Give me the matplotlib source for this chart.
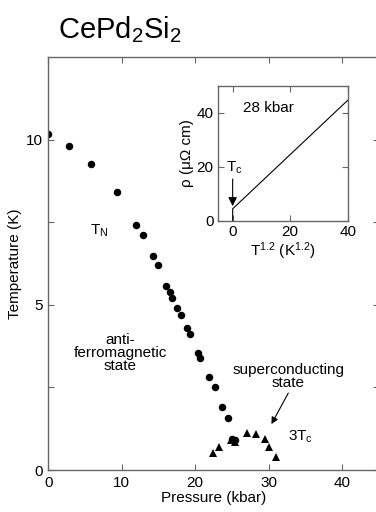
import numpy as np
import matplotlib
matplotlib.use("Agg")
from matplotlib import pyplot as plt

plt.rcParams['font.family'] = ['Liberation Sans', 'DejaVu Sans']
plt.rcParams['mathtext.fontset'] = 'custom'
plt.rcParams['mathtext.rm'] = 'Liberation Sans'
plt.rcParams['mathtext.it'] = 'Liberation Sans'

# T_N (circles) vs pressure
p_neel = [0.0, 2.8, 5.8, 9.3, 12.0, 12.9, 14.2, 15.0, 16.0, 16.6, 16.8, 17.6, 18.1,
          18.9, 19.3, 20.4, 20.7, 21.9, 22.7, 23.7, 24.5, 25.0, 25.4]
t_neel = [10.17, 9.82, 9.27, 8.41, 7.42, 7.10, 6.47, 6.19, 5.57, 5.39, 5.22, 4.89, 4.68,
          4.31, 4.11, 3.53, 3.40, 2.82, 2.50, 1.91, 1.56, 0.93, 0.91]

# 3*Tc (triangles) vs pressure
p_sc = [22.4, 23.3, 24.9, 25.4, 27.1, 28.3, 29.5, 30.1, 31.0]
t_sc3 = [0.52, 0.70, 0.91, 0.85, 1.11, 1.08, 0.93, 0.70, 0.40]

# inset: resistivity at 28 kbar vs T^1.2
t12 = [0, 0, 40]
rho = [0, 4.5, 44.6]

W, H = 376, 512
fig = plt.figure(figsize=(W / 100, H / 100), dpi=100)

spine_c = '0.4'
fs = 11

ax = fig.add_axes([48.3 / W, (H - 470) / H, 330.3 / W, 413 / H])
ax.plot(p_neel, t_neel, 'o', color='black', ms=5.4, mew=0)
ax.plot(p_sc, t_sc3, '^', color='black', ms=5.6, mew=0)
ax.set_xlim(0, 45)
ax.set_ylim(0, 12.5)
ax.set_xticks([0, 10, 20, 30, 40])
ax.set_yticks([0, 2.5, 5, 7.5, 10])
ax.set_yticklabels(['0', '', '5', '', '10'])
ax.tick_params(direction='in', top=True, right=True, length=4, width=0.8,
               color=spine_c, labelsize=fs, pad=4)
for s in ax.spines.values():
    s.set_color(spine_c)
    s.set_linewidth(1)
ax.set_xlabel('Pressure (kbar)', fontsize=fs, labelpad=1)
ax.set_ylabel('Temperature (K)', fontsize=fs, labelpad=3)

ax.text(6.9, 7.25, '$\\mathregular{T_N}$', fontsize=fs, ha='center', va='center')
ax.text(9.8, 3.53, 'anti-\nferromagnetic\nstate', fontsize=fs, ha='center',
        va='center', linespacing=0.92)
ax.text(32.7, 2.84, 'superconducting\nstate', fontsize=fs, ha='center',
        va='center', linespacing=0.92)
ax.annotate('', xy=(30.4, 1.39), xytext=(32.7, 2.33),
            arrowprops=dict(arrowstyle='-|>', color='black', lw=0.8,
                            mutation_scale=10, shrinkA=0, shrinkB=0))
ax.text(34.4, 1.0, '$\\mathregular{3T_c}$', fontsize=fs, ha='center', va='center')

fig.text(58 / W, 1 - 30 / H, '$\\mathregular{CePd_2Si_2}$', fontsize=21,
         ha='left', va='center')

# inset
ins = fig.add_axes([217.7 / W, (H - 221) / H, 130 / W, 135.3 / H])
ins.plot(t12, rho, color='black', lw=0.8)
ins.set_xlim(-5.2, 40)
ins.set_ylim(0, 50)
ins.set_xticks([0, 20, 40])
ins.set_yticks([0, 20, 40])
ins.tick_params(direction='in', top=True, right=True, length=4, width=0.8,
                color=spine_c, labelsize=fs, pad=3)
for s in ins.spines.values():
    s.set_color(spine_c)
    s.set_linewidth(1)
ins.set_xlabel('$\\mathregular{T^{1.2}\\ (K^{1.2})}$', fontsize=fs, labelpad=1)
ins.set_ylabel('ρ (μΩ cm)', fontsize=fs, labelpad=2)
ins.text(12.4, 41.6, '28 kbar', fontsize=fs, ha='center', va='center')
ins.text(0.6, 19.5, '$\\mathregular{T_c}$', fontsize=fs, ha='center', va='center')
ins.annotate('', xy=(0, 5.5), xytext=(0, 15.5),
             arrowprops=dict(arrowstyle='-|>', color='black', lw=0.8,
                             mutation_scale=13, shrinkA=0, shrinkB=0))

fig.savefig('out.png', dpi=100)
